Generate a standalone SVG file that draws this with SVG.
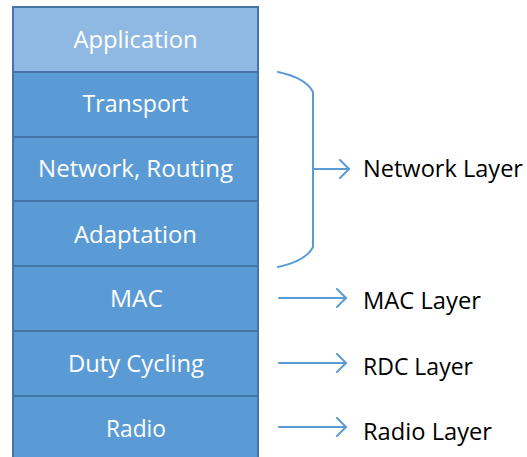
<svg xmlns="http://www.w3.org/2000/svg" width="527" height="457" viewBox="0 0 527 457">
  <style>
    .layer { fill: #5B9BD5; stroke: #4674A6; stroke-width: 2; }
    .layer.top { fill: #8FB9E2; }
    .lbl { font-family: "Open Sans", "Liberation Sans", sans-serif; font-size: 24px; fill: #FFFFFF; text-anchor: middle; }
    .side { font-family: "Open Sans", "Liberation Sans", sans-serif; font-size: 23px; fill: #000000; }
    .conn { fill: none; stroke: #5B9BD5; stroke-width: 2; stroke-linecap: round; stroke-linejoin: round; }
  </style>
  <defs>
    <marker id="chev" markerWidth="12" markerHeight="22" refX="10" refY="11" orient="auto" markerUnits="userSpaceOnUse">
      <path d="M1,2 L10,11 L1,20" fill="none" stroke="#5B9BD5" stroke-width="2" stroke-linecap="round" stroke-linejoin="miter"/>
    </marker>
  </defs>
  <rect width="527" height="457" fill="#FFFFFF"/>

  <!-- protocol stack -->
  <g id="application">
    <rect class="layer top" x="13" y="7" width="245" height="65"/>
    <text class="lbl" x="135.5" y="48" textLength="124" lengthAdjust="spacingAndGlyphs">Application</text>
  </g>
  <g id="transport">
    <rect class="layer" x="13" y="72" width="245" height="65"/>
    <text class="lbl" x="135.5" y="112" textLength="106" lengthAdjust="spacingAndGlyphs">Transport</text>
  </g>
  <g id="network-routing">
    <rect class="layer" x="13" y="137" width="245" height="64"/>
    <text class="lbl" x="135.5" y="177" textLength="195" lengthAdjust="spacingAndGlyphs">Network, Routing</text>
  </g>
  <g id="adaptation">
    <rect class="layer" x="13" y="201" width="245" height="65"/>
    <text class="lbl" x="135.5" y="243" textLength="123" lengthAdjust="spacingAndGlyphs">Adaptation</text>
  </g>
  <g id="mac">
    <rect class="layer" x="13" y="266" width="245" height="65"/>
    <text class="lbl" x="136.5" y="307" textLength="53" lengthAdjust="spacingAndGlyphs">MAC</text>
  </g>
  <g id="duty-cycling">
    <rect class="layer" x="13" y="331" width="245" height="65"/>
    <text class="lbl" x="136" y="372" textLength="136" lengthAdjust="spacingAndGlyphs">Duty Cycling</text>
  </g>
  <g id="radio">
    <rect class="layer" x="13" y="396" width="245" height="66"/>
    <text class="lbl" x="136" y="437" textLength="60" lengthAdjust="spacingAndGlyphs">Radio</text>
  </g>

  <!-- brace and arrows -->
  <g id="connectors">
    <path class="conn" d="M278,72 Q306,78 313,92 L313,247 Q306,261 278,267"/>
    <path class="conn" d="M313,169 H349" marker-end="url(#chev)"/>
    <path class="conn" d="M279,298 H346" marker-end="url(#chev)"/>
    <path class="conn" d="M279,363 H346" marker-end="url(#chev)"/>
    <path class="conn" d="M279,427 H346" marker-end="url(#chev)"/>
  </g>

  <!-- layer names -->
  <g id="network-layer">
    <text class="side" x="363" y="177" textLength="160" lengthAdjust="spacingAndGlyphs">Network Layer</text>
  </g>
  <g id="mac-layer">
    <text class="side" x="363" y="309" textLength="118" lengthAdjust="spacingAndGlyphs">MAC Layer</text>
  </g>
  <g id="rdc-layer">
    <text class="side" x="363" y="375" textLength="110" lengthAdjust="spacingAndGlyphs">RDC Layer</text>
  </g>
  <g id="radio-layer">
    <text class="side" x="363" y="440" textLength="129" lengthAdjust="spacingAndGlyphs">Radio Layer</text>
  </g>
</svg>
